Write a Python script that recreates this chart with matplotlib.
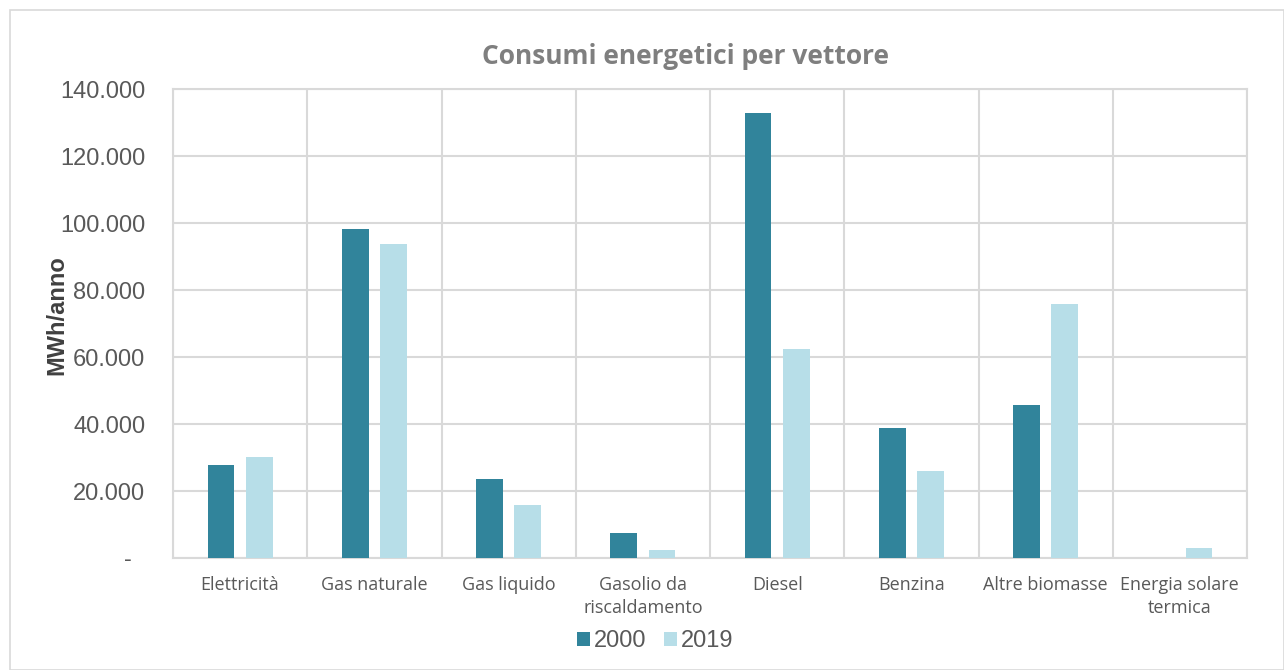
import numpy as np
import matplotlib.pyplot as plt
from matplotlib.patches import Rectangle
from matplotlib.ticker import FuncFormatter, FixedLocator

categorie = ["Elettricità", "Gas naturale", "Gas liquido", "Gasolio da\nriscaldamento",
             "Diesel", "Benzina", "Altre biomasse", "Energia solare\ntermica"]
anni = ["2000", "2019"]
consumi_2000 = [27800, 98200, 23600, 7400, 132700, 38700, 45700, 0]
consumi_2019 = [30100, 93600, 15800, 2400, 62300, 26000, 75700, 3000]

col_2000 = "#31849B"
col_2019 = "#B7DEE8"
grid_col = "#D9D9D9"
txt_col = "#595959"


def fmt_migliaia(v, pos):
    # stile "contabilita" di Excel: zero come trattino, separatore migliaia col punto
    if v == 0:
        return "-  "
    return f"{int(v):,}".replace(",", ".")


fig = plt.figure(figsize=(12.84, 6.70), dpi=100)
fig.patches.append(Rectangle((10 / 1284, 0), 1 - 10 / 1284, 1 - 10 / 670,
                             transform=fig.transFigure, fill=False,
                             edgecolor=grid_col, linewidth=1.2))

ax = fig.add_axes([173 / 1284, 1 - 558 / 670, (1247 - 173) / 1284, (558 - 89) / 670])

x = np.arange(len(categorie))
w = 0.2
off = 0.142
ax.bar(x - off, consumi_2000, w, color=col_2000, label=anni[0], zorder=3)
ax.bar(x + off, consumi_2019, w, color=col_2019, label=anni[1], zorder=3)

ax.set_xlim(-0.5, len(categorie) - 0.5)
ax.set_ylim(0, 140000)
ax.set_yticks(np.arange(0, 140001, 20000))
ax.yaxis.set_major_formatter(FuncFormatter(fmt_migliaia))
ax.set_xticks(x)
ax.set_xticklabels(categorie, fontsize=13, color=txt_col, family="Open Sans", linespacing=1.35)
ax.xaxis.set_minor_locator(FixedLocator(np.arange(-0.5, len(categorie), 1.0)))

ax.grid(axis="y", color=grid_col, linewidth=1.5, zorder=0)
ax.grid(axis="x", which="minor", color=grid_col, linewidth=1.5, zorder=0)
ax.tick_params(axis="both", which="both", length=0)
ax.tick_params(axis="y", labelsize=17, labelcolor=txt_col, pad=20)
ax.tick_params(axis="x", pad=13)
for lbl in ax.get_yticklabels():
    lbl.set_family("Liberation Sans")
for s in ax.spines.values():
    s.set_color(grid_col)
    s.set_linewidth(1.5)

ax.set_ylabel("MWh/anno", fontsize=17, fontweight="bold", color="#404040",
              family="Liberation Sans")
ax.yaxis.set_label_coords(-0.097, 0.518)

fig.text(0.534, 0.915, "Consumi energetici per vettore", ha="center", va="center",
         fontsize=19, fontweight="bold", color="#7F7F7F", family="Open Sans")

fig.legend(loc="center", bbox_to_anchor=(0.5105, 0.043), ncol=2, frameon=False,
           prop={"family": "Liberation Sans", "size": 17}, labelcolor=txt_col,
           handlelength=0.55, handleheight=0.55, handletextpad=0.17, columnspacing=0.75)

fig.savefig("out.png", dpi=100)
